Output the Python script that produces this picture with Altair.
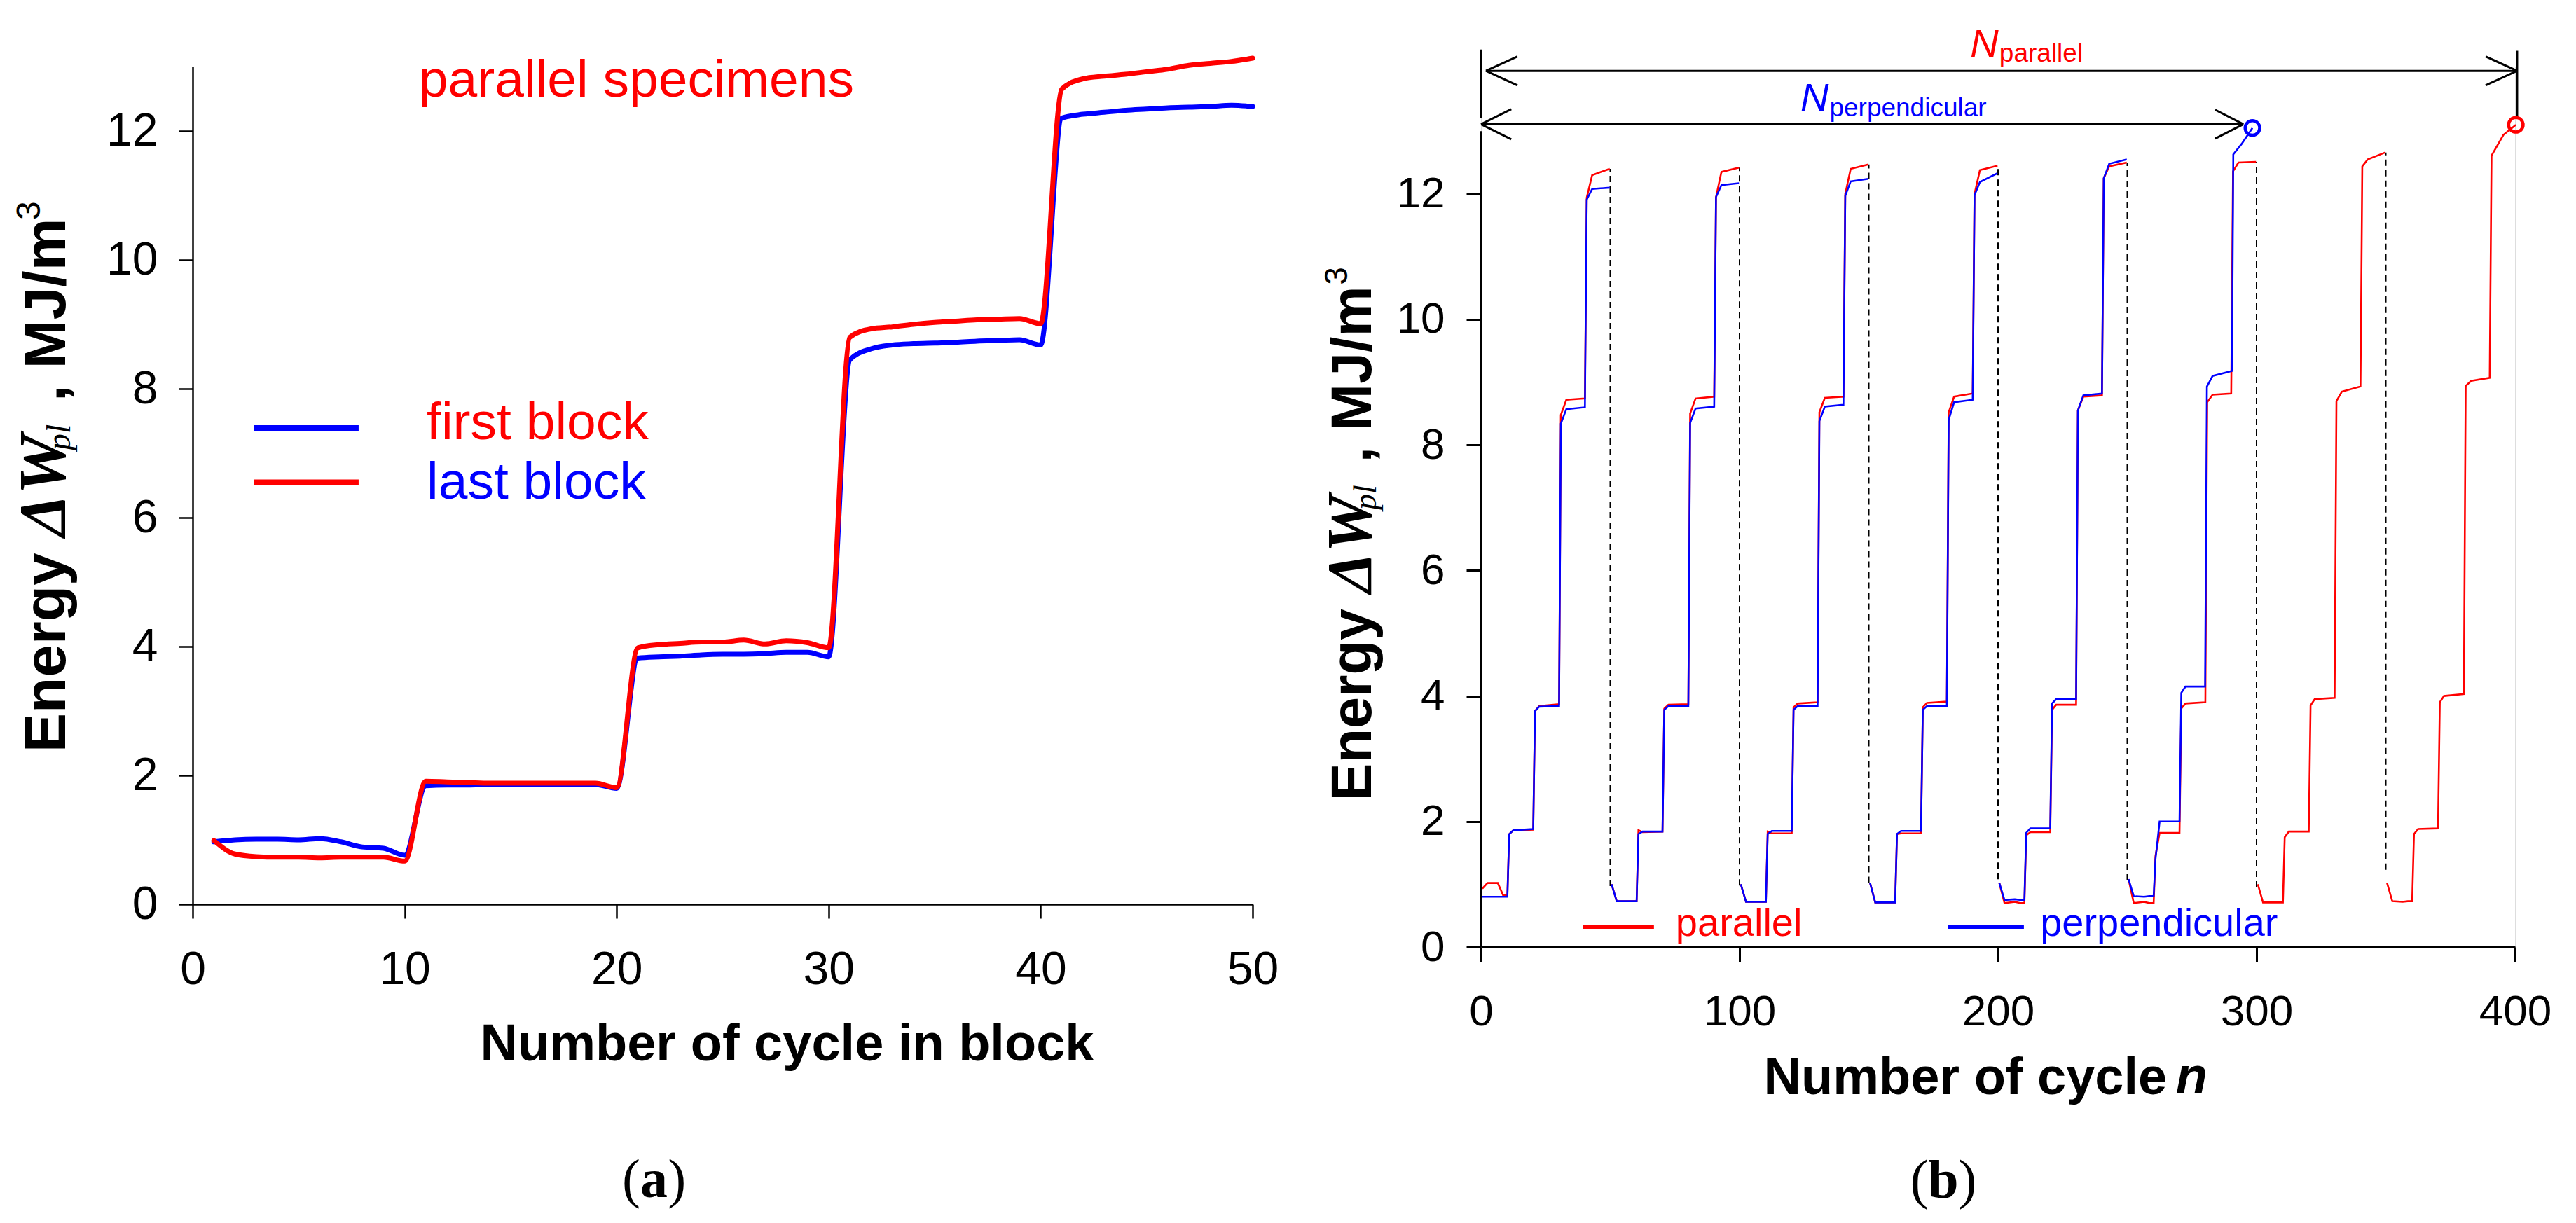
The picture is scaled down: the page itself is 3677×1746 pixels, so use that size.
import altair as alt
import pandas as pd

RED = "#ff0000"
BLUE = "#0000ff"
SANS = "Liberation Sans"
SERIF = "Liberation Serif"

# ---------------- panel (a): energy per cycle within a block ----------------
cycle_in_block = list(range(1, 51))
first_block = [0.97, 1.00, 1.01, 1.01, 1.00, 1.02, 0.97, 0.89, 0.87, 0.76,
               1.84, 1.85, 1.85, 1.86, 1.86, 1.86, 1.86, 1.86, 1.86, 1.80,
               3.82, 3.84, 3.85, 3.87, 3.88, 3.88, 3.89, 3.91, 3.91, 3.84,
               8.45, 8.62, 8.68, 8.70, 8.71, 8.72, 8.74, 8.75, 8.76, 8.68,
               12.20, 12.26, 12.29, 12.32, 12.34, 12.36, 12.37, 12.38, 12.40, 12.38]
last_block = [0.99, 0.78, 0.74, 0.73, 0.73, 0.72, 0.73, 0.73, 0.73, 0.67,
              1.91, 1.90, 1.89, 1.88, 1.88, 1.88, 1.88, 1.88, 1.88, 1.81,
              3.98, 4.03, 4.05, 4.07, 4.07, 4.10, 4.04, 4.09, 4.06, 3.98,
              8.80, 8.93, 8.96, 9.00, 9.03, 9.05, 9.07, 9.08, 9.09, 9.01,
              12.65, 12.81, 12.85, 12.88, 12.92, 12.96, 13.02, 13.05, 13.08, 13.13]

# ---------------- panel (b): energy over the whole test ----------------
block_length = 50
block_offsets = [0.5, 2.5, 6.5, 8.5, 10.2, 10.9, 12.5, 20.2, 20.9, 22.5,
                 30.2, 30.9, 33.0, 40.2, 40.9, 43.0, 49.8]
parallel_last_offsets = [0.5, 2.5, 6.5, 8.5, 10.2, 10.9, 12.5, 20.2, 20.9, 22.5,
                         30.2, 30.9, 33.0, 40.2, 40.9, 45.5, 50.3]
perpendicular_last_offsets = [0.5, 2.5, 6.5, 8.5, 10.2, 10.9, 12.5, 20.2, 20.9, 22.5,
                              30.1, 30.8, 33.0, 40.5, 41.0, 44.3, 48.4]
parallel_blocks = [
    [0.93, 1.02, 1.02, 0.83, 0.83, 1.80, 1.86, 1.87, 3.76, 3.84, 3.87, 8.48, 8.72, 8.74, 11.94, 12.30, 12.40],
    [1.00, 0.73, 0.73, 0.73, 0.73, 1.86, 1.83, 1.84, 3.80, 3.86, 3.87, 8.50, 8.74, 8.77, 11.95, 12.35, 12.42],
    [1.00, 0.72, 0.72, 0.72, 0.72, 1.84, 1.81, 1.81, 3.82, 3.88, 3.90, 8.52, 8.75, 8.77, 12.00, 12.40, 12.47],
    [1.02, 0.71, 0.71, 0.71, 0.71, 1.80, 1.81, 1.81, 3.82, 3.89, 3.91, 8.52, 8.77, 8.82, 12.00, 12.38, 12.45],
    [1.02, 0.70, 0.72, 0.70, 0.70, 1.78, 1.83, 1.83, 3.78, 3.86, 3.86, 8.55, 8.77, 8.79, 12.25, 12.44, 12.50],
    [1.08, 0.70, 0.72, 0.70, 0.70, 1.45, 1.82, 1.82, 3.80, 3.88, 3.90, 8.68, 8.80, 8.82, 12.36, 12.50, 12.51],
    [1.00, 0.71, 0.71, 0.71, 0.71, 1.75, 1.84, 1.84, 3.85, 3.95, 3.97, 8.70, 8.85, 8.93, 12.44, 12.55, 12.66],
    [1.02, 0.73, 0.72, 0.73, 0.73, 1.80, 1.88, 1.89, 3.90, 4.00, 4.03, 8.94, 9.02, 9.07, 12.61, 12.94, 13.10],
]
perpendicular_blocks = [
    [0.80, 0.80, 0.80, 0.80, 0.80, 1.80, 1.86, 1.88, 3.76, 3.83, 3.84, 8.34, 8.57, 8.60, 11.91, 12.08, 12.10],
    [1.00, 0.73, 0.73, 0.73, 0.73, 1.80, 1.84, 1.84, 3.78, 3.84, 3.84, 8.35, 8.58, 8.61, 11.95, 12.14, 12.17],
    [1.00, 0.72, 0.72, 0.72, 0.72, 1.80, 1.85, 1.85, 3.78, 3.84, 3.84, 8.38, 8.61, 8.64, 11.97, 12.20, 12.24],
    [1.02, 0.71, 0.71, 0.71, 0.71, 1.80, 1.85, 1.85, 3.78, 3.84, 3.84, 8.40, 8.68, 8.72, 11.98, 12.19, 12.33],
    [1.02, 0.75, 0.76, 0.75, 0.75, 1.82, 1.89, 1.89, 3.88, 3.95, 3.95, 8.55, 8.79, 8.82, 12.25, 12.48, 12.55],
    [1.08, 0.81, 0.80, 0.81, 0.81, 1.40, 2.00, 2.00, 4.05, 4.15, 4.15, 8.93, 9.10, 9.18, 12.63, 12.80, 13.05],
]
block_end_cycle = [50, 100, 150, 200, 250, 300, 350]
block_end_top = [12.40, 12.42, 12.47, 12.45, 12.50, 12.51, 12.66]
block_end_bottom = [0.97, 0.98, 1.02, 1.08, 1.06, 0.95, 1.23]
failure_cycle = [298.4, 400.3]
failure_energy = [13.05, 13.10]
failure_colour = [BLUE, RED]
n_parallel_level = 13.96
n_perpendicular_level = 13.11

# ---------------- build tables ----------------
df_a = pd.DataFrame(
    [{"x": c, "y": v, "s": "first"} for c, v in zip(cycle_in_block, first_block)]
    + [{"x": c, "y": v, "s": "last"} for c, v in zip(cycle_in_block, last_block)]
)

rows = []
for k, vals in enumerate(parallel_blocks):
    offs = parallel_last_offsets if k == len(parallel_blocks) - 1 else block_offsets
    for o, v in zip(offs, vals):
        rows.append({"x": block_length * k + o, "y": v, "s": "parallel", "block": k})
for k, vals in enumerate(perpendicular_blocks):
    offs = perpendicular_last_offsets if k == len(perpendicular_blocks) - 1 else block_offsets
    for o, v in zip(offs, vals):
        rows.append({"x": block_length * k + o, "y": v, "s": "perpendicular", "block": k})
df_b = pd.DataFrame(rows)

df_dash = pd.DataFrame({"x": block_end_cycle, "y": block_end_bottom, "y2": block_end_top})
df_fail = pd.DataFrame({"x": failure_cycle, "y": failure_energy, "c": failure_colour})

# arrows / dimension lines of panel (b)
seg = [
    (0, 13.21, 0, 14.30),
    (400.8, 13.21, 400.8, 14.28),
    (0, 0, 0, 13.0),
    (1.9, n_parallel_level, 400.8, n_parallel_level),
    (1.9, n_parallel_level, 14.1, n_parallel_level + 0.23),
    (1.9, n_parallel_level, 14.1, n_parallel_level - 0.23),
    (400.8, n_parallel_level, 388.6, n_parallel_level + 0.23),
    (400.8, n_parallel_level, 388.6, n_parallel_level - 0.23),
    (0, n_perpendicular_level, 294.9, n_perpendicular_level),
    (0, n_perpendicular_level, 11.7, n_perpendicular_level + 0.24),
    (0, n_perpendicular_level, 11.7, n_perpendicular_level - 0.24),
    (294.9, n_perpendicular_level, 284.0, n_perpendicular_level + 0.23),
    (294.9, n_perpendicular_level, 284.0, n_perpendicular_level - 0.23),
]
df_seg = pd.DataFrame(seg, columns=["x", "y", "x2", "y2"])

# ---------------- scales / axes ----------------
W_A, H_A = 1513, 1196
W_B, H_B = 1476, 1257
YB_MAX = 14.029

xa = alt.X("x:Q", scale=alt.Scale(domain=[0, 50], nice=False, zero=False),
           axis=alt.Axis(values=[0, 10, 20, 30, 40, 50], title="Number of cycle in block",
                         titleX=848, titleY=222, titleAlign="center", titleBaseline="alphabetic",
                         titleFont=SANS, titleFontSize=74, titleFontWeight="bold", titleColor="black",
                         labelFont=SANS, labelFontSize=66, labelColor="black", labelPadding=41,
                         tickSize=20, tickWidth=2.5, tickColor="black", domainWidth=2.5,
                         domainColor="black", grid=False, labelFlush=False))
ya = alt.Y("y:Q", scale=alt.Scale(domain=[0, 13], nice=False, zero=False),
           axis=alt.Axis(values=[0, 2, 4, 6, 8, 10, 12], title=None,
                         labelFont=SANS, labelFontSize=66, labelColor="black", labelPadding=30,
                         tickSize=20, tickWidth=2.5, tickColor="black", domainWidth=2.5,
                         domainColor="black", grid=False, labelFlush=False))
xb = alt.X("x:Q", scale=alt.Scale(domain=[0, 400], nice=False, zero=False),
           axis=alt.Axis(values=[0, 100, 200, 300, 400], title="Number of cycle",
                         titleX=403, titleY=209.5, titleAlign="left", titleBaseline="alphabetic",
                         titleFont=SANS, titleFontSize=74, titleFontWeight="bold", titleColor="black",
                         labelFont=SANS, labelFontSize=62, labelColor="black", labelPadding=41,
                         tickSize=21, tickWidth=3, tickColor="black", domainWidth=3,
                         domainColor="black", grid=False, labelFlush=False))
yb = alt.Y("y:Q", scale=alt.Scale(domain=[0, YB_MAX], nice=False, zero=False),
           axis=alt.Axis(values=[0, 2, 4, 6, 8, 10, 12], title=None, domain=False,
                         labelFont=SANS, labelFontSize=62, labelColor="black", labelPadding=31,
                         tickSize=21, tickWidth=3, tickColor="black", grid=False, labelFlush=False))


def texts(items, xe, ye, **mk):
    df = pd.DataFrame(items, columns=["t", "x", "y"])
    return alt.Chart(df).mark_text(**mk).encode(x=xe, y=ye, text="t:N")


def rules(items, xe, ye, **mk):
    df = pd.DataFrame(items, columns=["x", "y", "x2", "y2"])
    return alt.Chart(df).mark_rule(**mk).encode(x=xe, y=ye, x2="x2:Q", y2="y2:Q")


# ---------------- panel (a) ----------------
a_lines = [
    alt.Chart(df_a[df_a.s == "first"]).mark_line(color=BLUE, strokeWidth=7, interpolate="monotone",
                                                 strokeJoin="round", strokeCap="round").encode(x=xa, y=ya),
    alt.Chart(df_a[df_a.s == "last"]).mark_line(color=RED, strokeWidth=7, interpolate="monotone",
                                                strokeJoin="round", strokeCap="round").encode(x=xa, y=ya),
]
a_legend = [
    rules([(2.88, 7.39, 7.83, 7.39)], xa, ya, color=BLUE, strokeWidth=8),
    rules([(2.88, 6.55, 7.83, 6.55)], xa, ya, color=RED, strokeWidth=8),
    texts([("first block", 11.04, 7.22)], xa, ya, font=SANS, fontSize=75, color=RED, align="left", baseline="alphabetic"),
    texts([("last block", 11.04, 6.29)], xa, ya, font=SANS, fontSize=75, color=BLUE, align="left", baseline="alphabetic"),
    texts([("parallel specimens", 10.67, 12.53)], xa, ya, font=SANS, fontSize=75, color=RED, align="left", baseline="alphabetic"),
]
rot = dict(angle=270, align="left", baseline="alphabetic", color="black")
a_title = [
    texts([("Energy", -6.03, 2.359)], xa, ya, font=SANS, fontSize=84, fontWeight="bold", **rot),
    texts([("\u0394W", -6.03, 5.707)], xa, ya, font=SERIF, fontSize=96, fontWeight="bold", fontStyle="italic", **rot),
    texts([("pl", -5.78, 7.043)], xa, ya, font=SERIF, fontSize=48, fontStyle="italic", **rot),
    texts([(", MJ/m", -6.03, 7.804)], xa, ya, font=SANS, fontSize=84, fontWeight="bold", **rot),
    texts([("3", -7.19, 10.62)], xa, ya, font=SANS, fontSize=48, **rot),
]
a_caption = [
    texts([("(", 20.26, -4.543)], xa, ya, font=SERIF, fontSize=78, color="black", align="left", baseline="alphabetic"),
    texts([("a", 21.12, -4.543)], xa, ya, font=SERIF, fontSize=78, fontWeight="bold", color="black", align="left", baseline="alphabetic"),
    texts([(")", 22.41, -4.543)], xa, ya, font=SERIF, fontSize=78, color="black", align="left", baseline="alphabetic"),
]
panel_a = alt.layer(*a_lines, *a_legend, *a_title, *a_caption).properties(width=W_A, height=H_A)

# ---------------- panel (b) ----------------
b_dash = alt.Chart(df_dash).mark_rule(color="black", strokeWidth=2, strokeDash=[9, 6]).encode(
    x=xb, y=yb, y2="y2:Q")
b_lines = [
    alt.Chart(df_b[df_b.s == "parallel"]).mark_line(color=RED, strokeWidth=2.6).encode(
        x=xb, y=yb, detail="block:N", order="x:Q"),
    alt.Chart(df_b[df_b.s == "perpendicular"]).mark_line(color=BLUE, strokeWidth=2.6).encode(
        x=xb, y=yb, detail="block:N", order="x:Q"),
]
b_seg = alt.Chart(df_seg).mark_rule(color="black", strokeWidth=3).encode(x=xb, y=yb, x2="x2:Q", y2="y2:Q")
b_fail = alt.Chart(df_fail).mark_point(shape="circle", filled=False, size=430, strokeWidth=4.5, opacity=1).encode(
    x=xb, y=yb, color=alt.Color("c:N", scale=None))
b_text = [
    texts([("N", 189.2, 14.18)], xb, yb, font=SANS, fontSize=56, fontStyle="italic", color=RED, align="left", baseline="alphabetic"),
    texts([("parallel", 200.5, 14.11)], xb, yb, font=SANS, fontSize=37, color=RED, align="left", baseline="alphabetic"),
    texts([("N", 123.6, 13.33)], xb, yb, font=SANS, fontSize=56, fontStyle="italic", color=BLUE, align="left", baseline="alphabetic"),
    texts([("perpendicular", 134.8, 13.24)], xb, yb, font=SANS, fontSize=37, color=BLUE, align="left", baseline="alphabetic"),
    rules([(39.3, 0.318, 66.9, 0.318)], xb, yb, color=RED, strokeWidth=5),
    rules([(180.5, 0.318, 210.0, 0.318)], xb, yb, color=BLUE, strokeWidth=5),
    texts([("parallel", 75.3, 0.173)], xb, yb, font=SANS, fontSize=56, color=RED, align="left", baseline="alphabetic"),
    texts([("perpendicular", 216.3, 0.173)], xb, yb, font=SANS, fontSize=56, color=BLUE, align="left", baseline="alphabetic"),
    texts([("n", 268.8, -2.338)], xb, yb, font=SANS, fontSize=74, fontWeight="bold", fontStyle="italic", color="black", align="left", baseline="alphabetic"),
]
b_title = [
    texts([("Energy", -42.55, 2.327)], xb, yb, font=SANS, fontSize=81, fontWeight="bold", **rot),
    texts([("\u0394W", -42.55, 5.642)], xb, yb, font=SERIF, fontSize=92, fontWeight="bold", fontStyle="italic", **rot),
    texts([("pl", -40.65, 6.964)], xb, yb, font=SERIF, fontSize=46, fontStyle="italic", **rot),
    texts([(", MJ/m", -42.55, 7.717)], xb, yb, font=SANS, fontSize=81, fontWeight="bold", **rot),
    texts([("3", -51.76, 10.55)], xb, yb, font=SANS, fontSize=46, **rot),
]
b_caption = [
    texts([("(", 166.0, -3.99)], xb, yb, font=SERIF, fontSize=78, color="black", align="left", baseline="alphabetic"),
    texts([("b", 173.0, -3.99)], xb, yb, font=SERIF, fontSize=78, fontWeight="bold", color="black", align="left", baseline="alphabetic"),
    texts([(")", 184.7, -3.99)], xb, yb, font=SERIF, fontSize=78, color="black", align="left", baseline="alphabetic"),
]
panel_b = alt.layer(b_dash, *b_lines, b_seg, b_fail, *b_text, *b_title, *b_caption).properties(width=W_B, height=H_B)

chart = alt.hconcat(panel_a, panel_b, spacing=326, bounds="flush").properties(
    padding={"left": 7, "top": 27, "right": 5, "bottom": 5}
).configure_view(strokeWidth=0).configure(background="white")

chart.save("out.html", embed_options={"renderer": "svg", "actions": False})
